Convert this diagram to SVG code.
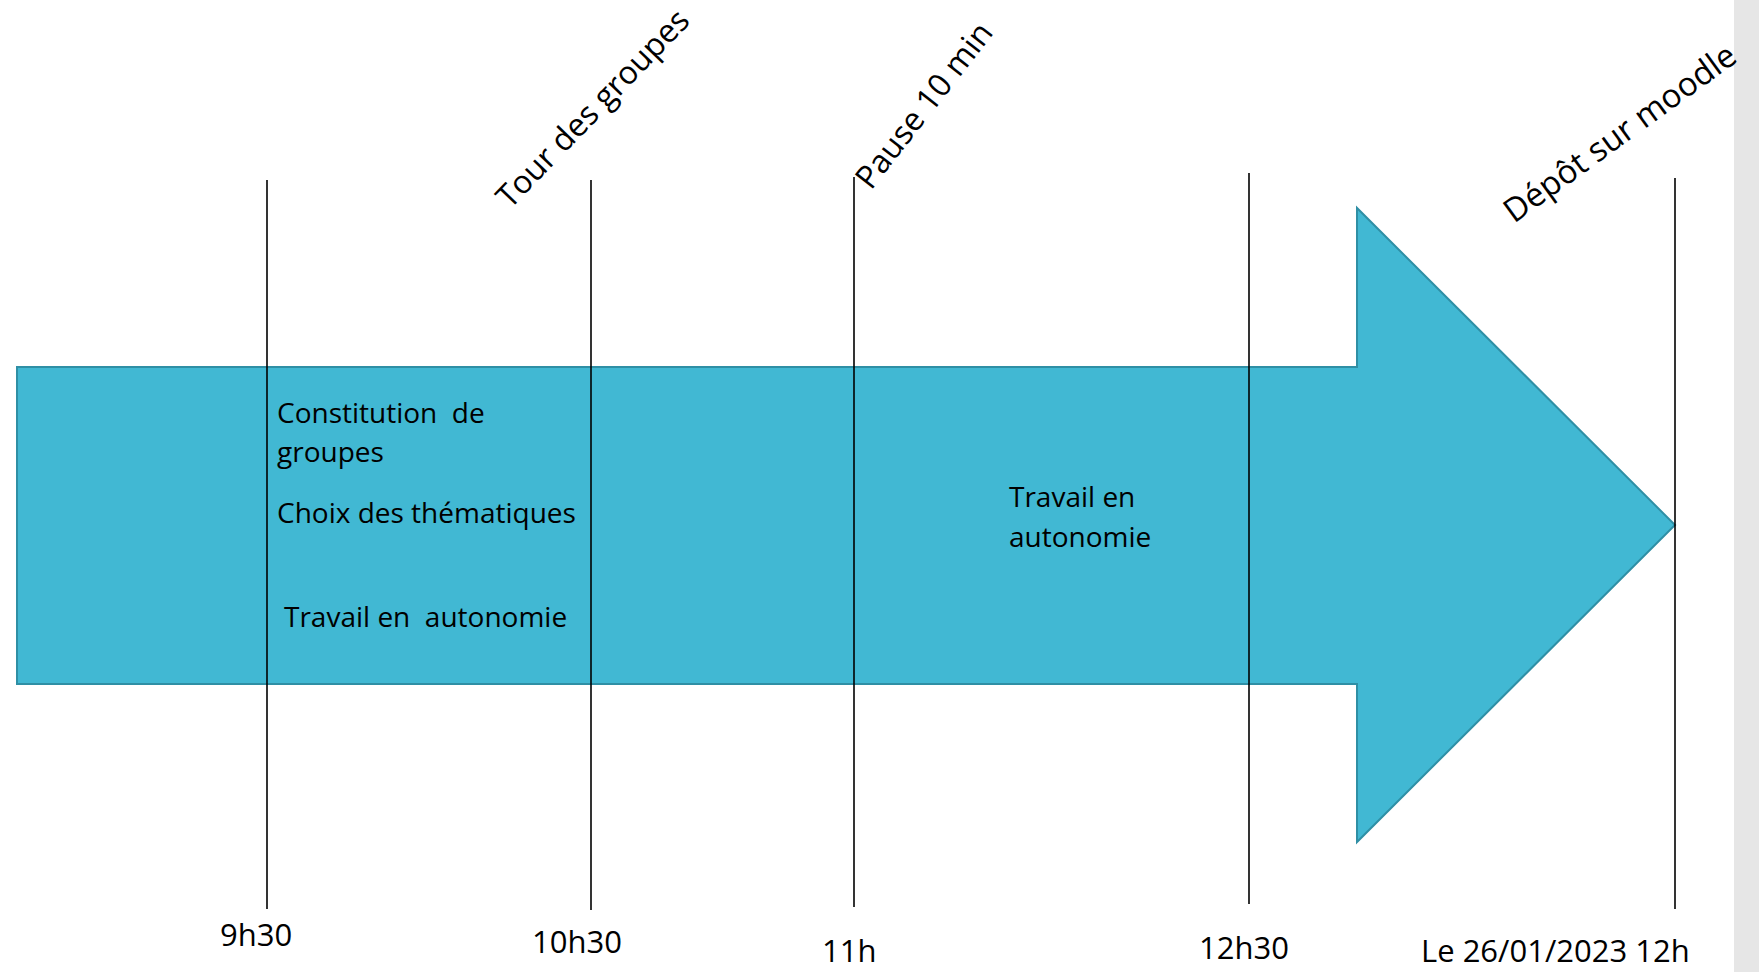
<svg xmlns="http://www.w3.org/2000/svg" width="1759" height="972" viewBox="0 0 1759 972">
<style>
.t{font-family:"Open Sans","Liberation Sans",sans-serif;font-size:28px;fill:#000;white-space:pre}
.b{font-family:"Open Sans","Liberation Sans",sans-serif;font-size:31px;fill:#000}
.r{font-family:"Open Sans","Liberation Sans",sans-serif;font-size:32px;fill:#000}
.tick{stroke:#000;stroke-width:1.6;fill:none}
</style>
<rect x="0" y="0" width="1759" height="972" fill="#fff"/>
<rect x="1734" y="0" width="25" height="972" fill="#e6e6e6"/>
<g id="arrow">
<path d="M17,367 H1357 V208 L1675,525 L1357,842 V684 H17 Z" fill="#41b8d3" stroke="#2f8fa5" stroke-width="2"/>
</g>
<g id="connectors">
<line class="tick" x1="267" y1="180" x2="267" y2="909"/>
<line class="tick" x1="591" y1="180" x2="591" y2="910"/>
<line class="tick" x1="854" y1="177" x2="854" y2="907"/>
<line class="tick" x1="1249" y1="173" x2="1249" y2="904"/>
<line class="tick" x1="1675" y1="178" x2="1675" y2="909"/>
</g>
<g id="bloc1">
<text class="t" x="277" y="423">Constitution  de</text>
<text class="t" x="277" y="462">groupes</text>
<text class="t" x="277" y="523">Choix des thématiques</text>
<text class="t" x="284" y="627">Travail en  autonomie</text>
</g>
<g id="bloc2">
<text class="t" x="1009" y="507">Travail en</text>
<text class="t" x="1009" y="547">autonomie</text>
</g>
<g id="t930"><text class="b" x="220" y="946">9h30</text></g>
<g id="t1030"><text class="b" x="532" y="953">10h30</text></g>
<g id="t11"><text class="b" x="822" y="962">11h</text></g>
<g id="t1230"><text class="b" x="1199" y="959">12h30</text></g>
<g id="t12"><text class="b" x="1421" y="962">Le 26/01/2023 12h</text></g>
<g id="tour"><text class="r" transform="translate(510,210) rotate(-46)">Tour des groupes</text></g>
<g id="pause"><text class="r" transform="translate(871,191) rotate(-52)">Pause 10 min</text></g>
<g id="depot"><text class="r" style="font-size:33px" transform="translate(1514,224) rotate(-36)">Dépôt sur moodle</text></g>
</svg>
